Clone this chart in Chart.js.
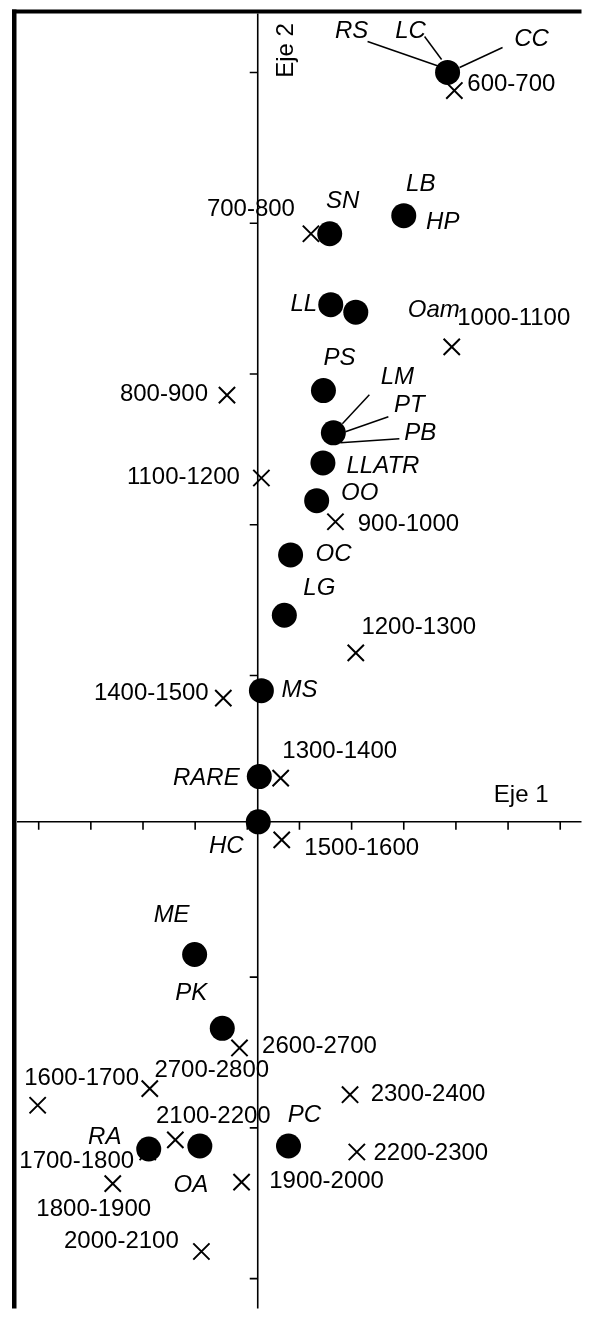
<!DOCTYPE html>
<html lang="es">
<head>
<meta charset="utf-8">
<title>Eje 1 / Eje 2</title>
<script src="https://cdn.jsdelivr.net/npm/chart.js@4.4.0/dist/chart.umd.min.js"></script>
<style>
  html, body { margin: 0; padding: 0; background: #ffffff; }
  canvas { display: block; }
</style>
</head>
<body>
<canvas id="caChart" width="595" height="1322"></canvas>
<script>
// Groups (filled dots)
const groupLabels = ["RS/LC/CC", "LB/HP", "SN", "LL", "Oam", "PS", "LM/PT/PB", "LLATR", "OO", "OC", "LG", "MS", "RARE", "HC", "ME", "PK", "RA", "OA", "PC"];
const groupX = [3.64, 2.80, 1.38, 1.40, 1.88, 1.26, 1.45, 1.25, 1.13, 0.63, 0.51, 0.07, 0.03, 0.01, -1.21, -0.68, -2.09, -1.11, 0.59];
const groupY = [4.97, 4.02, 3.90, 3.43, 3.38, 2.86, 2.58, 2.38, 2.13, 1.77, 1.37, 0.87, 0.30, 0.00, -0.88, -1.37, -2.17, -2.15, -2.15];

// Periods (X marks)
const periodLabels = ["600-700", "700-800", "800-900", "900-1000", "1000-1100", "1100-1200", "1200-1300", "1300-1400", "1400-1500", "1500-1600", "1600-1700", "1700-1800", "1800-1900", "1900-2000", "2000-2100", "2100-2200", "2200-2300", "2300-2400", "2600-2700", "2700-2800"];
const periodX = [3.77, 1.02, -0.59, 1.49, 3.72, 0.07, 1.88, 0.44, -0.66, 0.46, -4.22, -2.11, -2.78, -0.31, -1.08, -1.58, 1.90, 1.77, -0.35, -2.07];
const periodY = [4.85, 3.90, 2.83, 1.99, 3.15, 2.28, 1.12, 0.29, 0.82, -0.12, -1.88, -2.19, -2.40, -2.39, -2.85, -2.11, -2.19, -1.81, -1.50, -1.77];

// Tick marks on both axes (no tick labels in the original)
const xTicks = [-4.2, -3.2, -2.2, -1.2, -0.2, 0.8, 1.8, 2.8, 3.8, 4.8, 5.8];
const yTicks = [4.97, 3.97, 2.97, 1.97, 0.97, -0.03, -1.03, -2.03, -3.03];

const axisLimits = { xMin: -4.616, xMax: 6.208, yMin: -3.228, yMax: 5.361 };

// Label placement in pixels relative to the point; lead = leader line [x1, y1, x2, y2]
const groupText = {
  "RS/LC/CC": [
    { t: "RS", dx: -96, dy: -41, lead: [-80, -31, -8, -6] },
    { t: "LC", dx: -37, dy: -41, lead: [-23, -36, -6, -13] },
    { t: "CC", dx: 84, dy: -33, lead: [55, -25, 12, -5] },
  ],
  "LB/HP": [{ t: "LB", dx: 17, dy: -31 }, { t: "HP", dx: 39, dy: 7 }],
  SN: [{ t: "SN", dx: 13, dy: -32 }],
  LL: [{ t: "LL", dx: -27, dy: 0 }],
  Oam: [{ t: "Oam", dx: 78, dy: -2 }],
  PS: [{ t: "PS", dx: 16, dy: -32 }],
  "LM/PT/PB": [
    { t: "LM", dx: 64, dy: -55, lead: [36, -38, 9, -9] },
    { t: "PT", dx: 76, dy: -27, lead: [55, -16, 12, -1] },
    { t: "PB", dx: 87, dy: 1, lead: [66, 6, 7, 10] },
  ],
  LLATR: [{ t: "LLATR", dx: 60, dy: 3 }],
  OO: [{ t: "OO", dx: 43, dy: -7 }],
  OC: [{ t: "OC", dx: 43, dy: -1 }],
  LG: [{ t: "LG", dx: 35, dy: -27 }],
  MS: [{ t: "MS", dx: 38, dy: 0 }],
  RARE: [{ t: "RARE", dx: -53, dy: 2 }],
  HC: [{ t: "HC", dx: -32, dy: 25 }],
  ME: [{ t: "ME", dx: -23, dy: -39 }],
  PK: [{ t: "PK", dx: -31, dy: -35 }],
  RA: [{ t: "RA", dx: -44, dy: -12 }],
  OA: [{ t: "OA", dx: -9, dy: 39 }],
  PC: [{ t: "PC", dx: 16, dy: -31 }],
};

const periodText = {
  "600-700": [57, -6], "700-800": [-60, -24], "800-900": [-63, -1], "900-1000": [73, 3],
  "1000-1100": [62, -28], "1100-1200": [-78, -1], "1200-1300": [63, -26], "1300-1400": [59, -27],
  "1400-1500": [-72, -5], "1500-1600": [80, 8], "1600-1700": [44, -27], "1700-1800": [-71, 9],
  "1800-1900": [-19, 26], "1900-2000": [85, -1], "2000-2100": [-80, -10], "2100-2200": [38, -24],
  "2200-2300": [74, 1], "2300-2400": [78, 0], "2600-2700": [80, -2], "2700-2800": [62, -18],
};

const FONT = '"Liberation Sans", Arial, sans-serif';

document.addEventListener("DOMContentLoaded", function () {
  initializeChart();
});

const crossAxesPlugin = {
  id: "crossAxes",
  beforeDatasetsDraw(chart) {
    const { ctx, chartArea: a, scales } = chart;
    const x0 = scales.x.getPixelForValue(0);
    const y0 = scales.y.getPixelForValue(0);
    ctx.save();
    // thick frame, left and top only
    ctx.fillStyle = "#000";
    ctx.fillRect(a.left - 5, a.top - 4, a.right - a.left + 5, 4);
    ctx.fillRect(a.left - 5, a.top - 4, 4.5, a.bottom - a.top + 4);

    ctx.strokeStyle = "#000";
    ctx.lineWidth = 1.6;
    ctx.beginPath();
    ctx.moveTo(x0, a.top);
    ctx.lineTo(x0, a.bottom);
    ctx.moveTo(a.left, y0);
    ctx.lineTo(a.right, y0);
    xTicks.forEach((v) => {
      const px = scales.x.getPixelForValue(v);
      ctx.moveTo(px, y0);
      ctx.lineTo(px, y0 + 8);
    });
    yTicks.forEach((v) => {
      const py = scales.y.getPixelForValue(v);
      ctx.moveTo(x0 - 8, py);
      ctx.lineTo(x0, py);
    });
    ctx.stroke();

    // axis titles
    ctx.fillStyle = "#000";
    ctx.font = "24px " + FONT;
    ctx.textBaseline = "middle";
    ctx.textAlign = "right";
    ctx.fillText("Eje 1", a.right - 33, y0 - 26);
    ctx.translate(x0 + 29, a.top + 37);
    ctx.rotate(-Math.PI / 2);
    ctx.textAlign = "center";
    ctx.fillText("Eje 2", 0, 0);
    ctx.restore();
  },
  afterDatasetsDraw(chart) {
    const { ctx, scales } = chart;
    ctx.save();
    ctx.fillStyle = "#000";
    ctx.strokeStyle = "#000";
    ctx.lineWidth = 1.5;
    ctx.textAlign = "center";
    ctx.textBaseline = "middle";

    ctx.font = "italic 24px " + FONT;
    groupLabels.forEach((name, i) => {
      const px = scales.x.getPixelForValue(groupX[i]);
      const py = scales.y.getPixelForValue(groupY[i]);
      (groupText[name] || []).forEach((lab) => {
        if (lab.lead) {
          ctx.beginPath();
          ctx.moveTo(px + lab.lead[0], py + lab.lead[1]);
          ctx.lineTo(px + lab.lead[2], py + lab.lead[3]);
          ctx.stroke();
        }
        ctx.fillText(lab.t, px + lab.dx, py + lab.dy);
      });
    });

    ctx.font = "24px " + FONT;
    periodLabels.forEach((name, i) => {
      const off = periodText[name];
      const px = scales.x.getPixelForValue(periodX[i]);
      const py = scales.y.getPixelForValue(periodY[i]);
      ctx.fillText(name, px + off[0], py + off[1]);
    });
    ctx.restore();
  },
};

function initializeChart() {
  const canvas = document.getElementById("caChart");
  if (!canvas) return;

  new Chart(canvas, {
    type: "scatter",
    data: {
      datasets: [
        {
          label: "Grupos",
          data: groupX.map((x, i) => ({ x: x, y: groupY[i] })),
          pointStyle: "circle",
          pointRadius: 12.5,
          backgroundColor: "#000",
          borderColor: "#000",
          borderWidth: 0,
        },
        {
          label: "Periodos",
          data: periodX.map((x, i) => ({ x: x, y: periodY[i] })),
          pointStyle: "crossRot",
          pointRadius: 11.5,
          borderColor: "#000",
          borderWidth: 2,
        },
      ],
    },
    options: {
      responsive: false,
      animation: false,
      layout: {
        padding: { left: 17, top: 13, right: 0, bottom: 0 },
      },
      plugins: {
        legend: { display: false },
        tooltip: { enabled: false },
      },
      scales: {
        x: {
          type: "linear",
          min: axisLimits.xMin,
          max: axisLimits.xMax,
          display: false,
        },
        y: {
          type: "linear",
          min: axisLimits.yMin,
          max: axisLimits.yMax,
          display: false,
        },
      },
    },
    plugins: [crossAxesPlugin],
  });
}
</script>
</body>
</html>
